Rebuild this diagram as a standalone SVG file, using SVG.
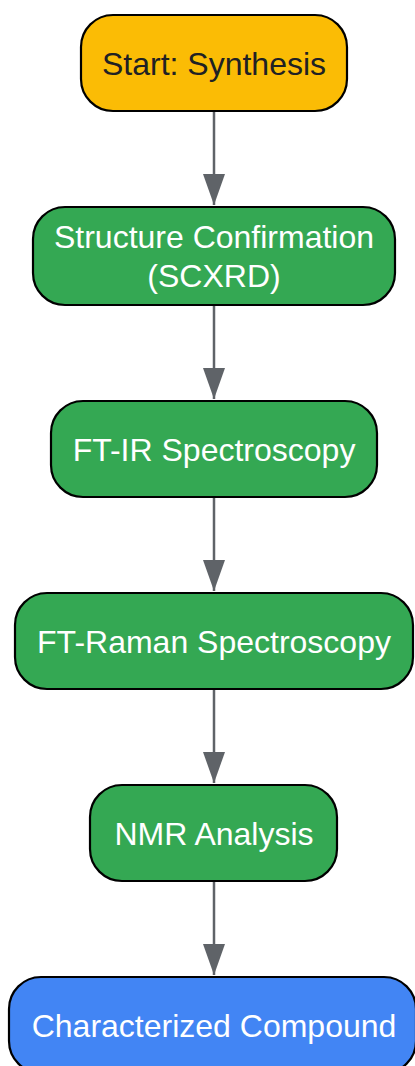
<svg xmlns="http://www.w3.org/2000/svg" width="415" height="1066" viewBox="0 0 415 1066">
<defs>
<style>
.node rect{stroke:#000;stroke-width:2.2}
.lbl{font-family:"Liberation Sans",Arial,sans-serif;font-size:32px;text-anchor:middle}
.w{fill:#fff}
.d{fill:#202124}
.edge{stroke:#5f6368;stroke-width:2.5;fill:none}
</style>
<marker id="arr" markerUnits="userSpaceOnUse" markerWidth="31" markerHeight="22" refX="31" refY="11" orient="auto" viewBox="0 0 31 22">
<path d="M0,0 L31,11 L0,22 Z" fill="#5f6368"/>
</marker>
</defs>
<rect width="415" height="1066" fill="#fff"/>
<g id="connectors">
<path class="edge" d="M214,111 V205" marker-end="url(#arr)"/>
<path class="edge" d="M214,305 V399" marker-end="url(#arr)"/>
<path class="edge" d="M214,497 V591" marker-end="url(#arr)"/>
<path class="edge" d="M214,689 V783" marker-end="url(#arr)"/>
<path class="edge" d="M214,881 V975" marker-end="url(#arr)"/>
</g>
<g id="start" class="node">
<rect x="81" y="15" width="266" height="96" rx="32" fill="#fbbc05"/>
<text class="lbl d" x="214" y="75">Start: Synthesis</text>
</g>
<g id="scxrd" class="node">
<rect x="33" y="207" width="362" height="98" rx="32" fill="#34a853"/>
<text class="lbl w" x="214" y="248">Structure Confirmation</text>
<text class="lbl w" x="214" y="287">(SCXRD)</text>
</g>
<g id="ftir" class="node">
<rect x="51" y="401" width="326" height="96" rx="32" fill="#34a853"/>
<text class="lbl w" x="214" y="461">FT-IR Spectroscopy</text>
</g>
<g id="raman" class="node">
<rect x="15" y="593" width="398" height="96" rx="32" fill="#34a853"/>
<text class="lbl w" x="214" y="653">FT-Raman Spectroscopy</text>
</g>
<g id="nmr" class="node">
<rect x="90" y="785" width="247" height="96" rx="32" fill="#34a853"/>
<text class="lbl w" x="214" y="845">NMR Analysis</text>
</g>
<g id="final" class="node">
<rect x="9" y="977" width="407" height="96" rx="32" fill="#4285f4"/>
<text class="lbl w" x="214" y="1037">Characterized Compound</text>
</g>
</svg>
